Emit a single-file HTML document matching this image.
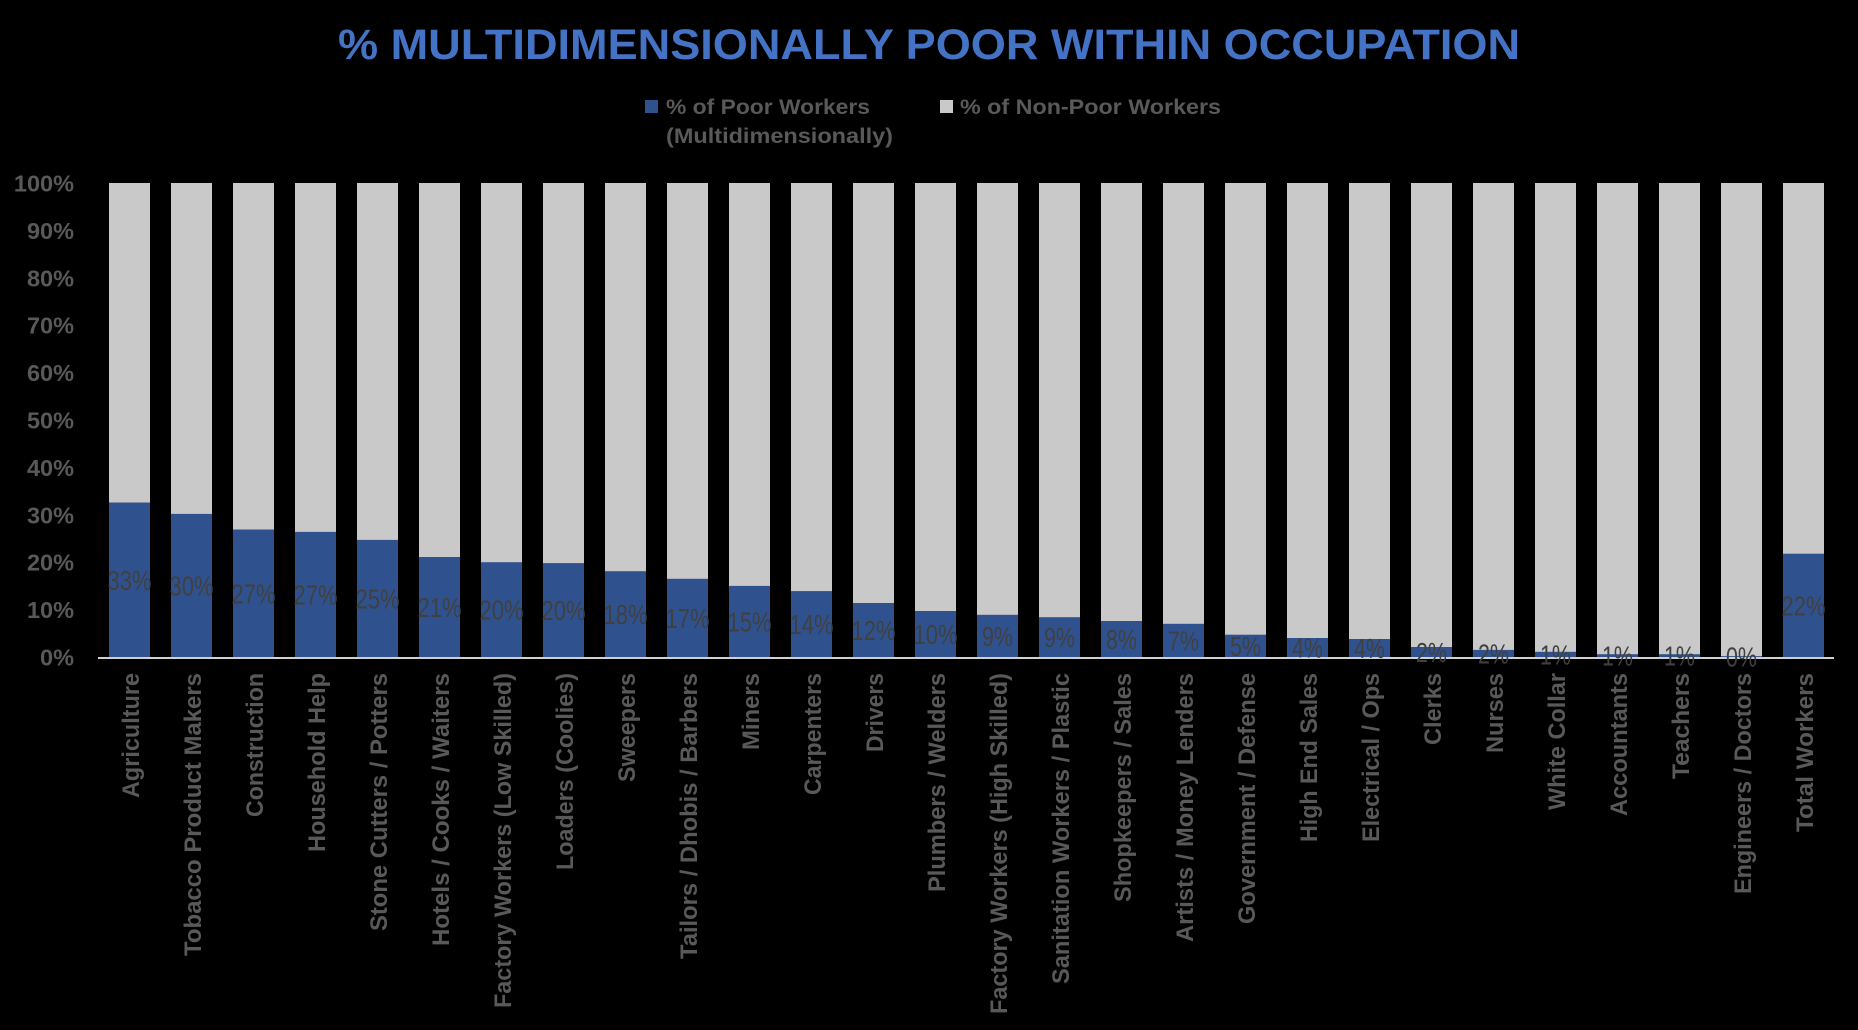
<!DOCTYPE html>
<html>
<head>
<meta charset="utf-8">
<style>
  html, body { margin: 0; padding: 0; background: #000; }
  body { width: 1858px; height: 1030px; overflow: hidden; }
  svg { display: block; }
  .t { font-family: "Liberation Sans", Arial, sans-serif; }
  .xl { font-family: "Liberation Sans", Arial, sans-serif; font-weight: bold; font-size: 24px; fill: #595959; }
  .yl { font-family: "Liberation Sans", Arial, sans-serif; font-weight: bold; font-size: 23.5px; fill: #595959; }
  .dl { font-family: "Liberation Sans", Arial, sans-serif; font-size: 28px; fill: #404040; }
</style>
</head>
<body>
<svg width="1858" height="1030" viewBox="0 0 1858 1030" xmlns="http://www.w3.org/2000/svg">
  <rect x="0" y="0" width="1858" height="1030" fill="#000"/>

  <!-- Title -->
  <text class="t" x="338" y="59" font-size="43" font-weight="bold" fill="#4472C4" textLength="1182" lengthAdjust="spacingAndGlyphs">% MULTIDIMENSIONALLY POOR WITHIN OCCUPATION</text>

  <!-- Legend -->
  <rect x="645" y="100" width="13" height="13" fill="#2F528F"/>
  <text class="t" x="666" y="114" font-size="21.5" font-weight="bold" fill="#595959" textLength="204" lengthAdjust="spacingAndGlyphs">% of Poor Workers</text>
  <text class="t" x="666" y="143" font-size="21.5" font-weight="bold" fill="#595959" textLength="227" lengthAdjust="spacingAndGlyphs">(Multidimensionally)</text>
  <rect x="940" y="100" width="13" height="13" fill="#C9C9C9"/>
  <text class="t" x="960" y="114" font-size="21.5" font-weight="bold" fill="#595959" textLength="261" lengthAdjust="spacingAndGlyphs">% of Non-Poor Workers</text>

  <!-- Y axis labels -->
  <g class="yl" text-anchor="end">
    <text x="74" y="665.5">0%</text>
    <text x="74" y="618.1">10%</text>
    <text x="74" y="570.7">20%</text>
    <text x="74" y="523.3">30%</text>
    <text x="74" y="475.9">40%</text>
    <text x="74" y="428.5">50%</text>
    <text x="74" y="381.1">60%</text>
    <text x="74" y="333.7">70%</text>
    <text x="74" y="286.3">80%</text>
    <text x="74" y="238.9">90%</text>
    <text x="74" y="191.5">100%</text>
  </g>

  <!-- Grey (non-poor) full bars -->
  <g fill="#C9C9C9">
    <rect x="109" y="183" width="41" height="474"/>
    <rect x="171" y="183" width="41" height="474"/>
    <rect x="233" y="183" width="41" height="474"/>
    <rect x="295" y="183" width="41" height="474"/>
    <rect x="357" y="183" width="41" height="474"/>
    <rect x="419" y="183" width="41" height="474"/>
    <rect x="481" y="183" width="41" height="474"/>
    <rect x="543" y="183" width="41" height="474"/>
    <rect x="605" y="183" width="41" height="474"/>
    <rect x="667" y="183" width="41" height="474"/>
    <rect x="729" y="183" width="41" height="474"/>
    <rect x="791" y="183" width="41" height="474"/>
    <rect x="853" y="183" width="41" height="474"/>
    <rect x="915" y="183" width="41" height="474"/>
    <rect x="977" y="183" width="41" height="474"/>
    <rect x="1039" y="183" width="41" height="474"/>
    <rect x="1101" y="183" width="41" height="474"/>
    <rect x="1163" y="183" width="41" height="474"/>
    <rect x="1225" y="183" width="41" height="474"/>
    <rect x="1287" y="183" width="41" height="474"/>
    <rect x="1349" y="183" width="41" height="474"/>
    <rect x="1411" y="183" width="41" height="474"/>
    <rect x="1473" y="183" width="41" height="474"/>
    <rect x="1535" y="183" width="41" height="474"/>
    <rect x="1597" y="183" width="41" height="474"/>
    <rect x="1659" y="183" width="41" height="474"/>
    <rect x="1721" y="183" width="41" height="474"/>
    <rect x="1783" y="183" width="41" height="474"/>
  </g>

  <!-- Blue (poor) segments -->
  <g fill="#2F528F">
    <rect x="109" y="502.5" width="41" height="154.5"/>
    <rect x="171" y="513.9" width="41" height="143.1"/>
    <rect x="233" y="529.5" width="41" height="127.5"/>
    <rect x="295" y="531.9" width="41" height="125.1"/>
    <rect x="357" y="539.9" width="41" height="117.1"/>
    <rect x="419" y="557" width="41" height="100"/>
    <rect x="481" y="562.2" width="41" height="94.8"/>
    <rect x="543" y="563.1" width="41" height="93.9"/>
    <rect x="605" y="571.2" width="41" height="85.8"/>
    <rect x="667" y="578.8" width="41" height="78.2"/>
    <rect x="729" y="585.9" width="41" height="71.1"/>
    <rect x="791" y="591.1" width="41" height="65.9"/>
    <rect x="853" y="603" width="41" height="54"/>
    <rect x="915" y="611" width="41" height="46"/>
    <rect x="977" y="614.8" width="41" height="42.2"/>
    <rect x="1039" y="617.2" width="41" height="39.8"/>
    <rect x="1101" y="621" width="41" height="36"/>
    <rect x="1163" y="623.8" width="41" height="33.2"/>
    <rect x="1225" y="634.7" width="41" height="22.3"/>
    <rect x="1287" y="638" width="41" height="19"/>
    <rect x="1349" y="639" width="41" height="18"/>
    <rect x="1411" y="647" width="41" height="10"/>
    <rect x="1473" y="649.9" width="41" height="7.1"/>
    <rect x="1535" y="651.8" width="41" height="5.2"/>
    <rect x="1597" y="654.2" width="41" height="2.8"/>
    <rect x="1659" y="654.2" width="41" height="2.8"/>
    <rect x="1721" y="656.1" width="41" height="0.9"/>
    <rect x="1783" y="553.7" width="41" height="103.3"/>
  </g>

  <!-- Axis line -->
  <rect x="98" y="657" width="1736" height="2" fill="#D0D0D0"/>

  <!-- Data labels -->
  <g class="dl" text-anchor="middle">
    <text x="129.5" y="590" textLength="44" lengthAdjust="spacingAndGlyphs">33%</text>
    <text x="191.5" y="595.5" textLength="44" lengthAdjust="spacingAndGlyphs">30%</text>
    <text x="253.5" y="603.5" textLength="44" lengthAdjust="spacingAndGlyphs">27%</text>
    <text x="315.5" y="604.5" textLength="44" lengthAdjust="spacingAndGlyphs">27%</text>
    <text x="377.5" y="608.5" textLength="44" lengthAdjust="spacingAndGlyphs">25%</text>
    <text x="439.5" y="617" textLength="44" lengthAdjust="spacingAndGlyphs">21%</text>
    <text x="501.5" y="619.5" textLength="44" lengthAdjust="spacingAndGlyphs">20%</text>
    <text x="563.5" y="620" textLength="44" lengthAdjust="spacingAndGlyphs">20%</text>
    <text x="625.5" y="624" textLength="44" lengthAdjust="spacingAndGlyphs">18%</text>
    <text x="687.5" y="628" textLength="44" lengthAdjust="spacingAndGlyphs">17%</text>
    <text x="749.5" y="631.5" textLength="44" lengthAdjust="spacingAndGlyphs">15%</text>
    <text x="811.5" y="634" textLength="44" lengthAdjust="spacingAndGlyphs">14%</text>
    <text x="873.5" y="640" textLength="44" lengthAdjust="spacingAndGlyphs">12%</text>
    <text x="935.5" y="644" textLength="44" lengthAdjust="spacingAndGlyphs">10%</text>
    <text x="997.5" y="646" textLength="31" lengthAdjust="spacingAndGlyphs">9%</text>
    <text x="1059.5" y="647" textLength="31" lengthAdjust="spacingAndGlyphs">9%</text>
    <text x="1121.5" y="649" textLength="31" lengthAdjust="spacingAndGlyphs">8%</text>
    <text x="1183.5" y="650.5" textLength="31" lengthAdjust="spacingAndGlyphs">7%</text>
    <text x="1245.5" y="656" textLength="31" lengthAdjust="spacingAndGlyphs">5%</text>
    <text x="1307.5" y="657.5" textLength="31" lengthAdjust="spacingAndGlyphs">4%</text>
    <text x="1369.5" y="658" textLength="31" lengthAdjust="spacingAndGlyphs">4%</text>
    <text x="1431.5" y="662" textLength="31" lengthAdjust="spacingAndGlyphs">2%</text>
    <text x="1493.5" y="663.5" textLength="31" lengthAdjust="spacingAndGlyphs">2%</text>
    <text x="1555.5" y="664.5" textLength="31" lengthAdjust="spacingAndGlyphs">1%</text>
    <text x="1617.5" y="665.5" textLength="31" lengthAdjust="spacingAndGlyphs">1%</text>
    <text x="1679.5" y="665.5" textLength="31" lengthAdjust="spacingAndGlyphs">1%</text>
    <text x="1741.5" y="666.5" textLength="31" lengthAdjust="spacingAndGlyphs">0%</text>
    <text x="1803.5" y="615.5" textLength="44" lengthAdjust="spacingAndGlyphs">22%</text>
  </g>

  <!-- X axis category labels (rotated) -->
  <g class="xl" text-anchor="end">
    <text transform="translate(139,673) rotate(-90)" textLength="125" lengthAdjust="spacingAndGlyphs">Agriculture</text>
    <text transform="translate(201,673) rotate(-90)" textLength="283" lengthAdjust="spacingAndGlyphs">Tobacco Product Makers</text>
    <text transform="translate(263,673) rotate(-90)" textLength="144" lengthAdjust="spacingAndGlyphs">Construction</text>
    <text transform="translate(325,673) rotate(-90)" textLength="179" lengthAdjust="spacingAndGlyphs">Household Help</text>
    <text transform="translate(387,673) rotate(-90)" textLength="258" lengthAdjust="spacingAndGlyphs">Stone Cutters / Potters</text>
    <text transform="translate(449,673) rotate(-90)" textLength="273" lengthAdjust="spacingAndGlyphs">Hotels / Cooks / Waiters</text>
    <text transform="translate(511,673) rotate(-90)" textLength="335" lengthAdjust="spacingAndGlyphs">Factory Workers (Low Skilled)</text>
    <text transform="translate(573,673) rotate(-90)" textLength="197" lengthAdjust="spacingAndGlyphs">Loaders (Coolies)</text>
    <text transform="translate(635,673) rotate(-90)" textLength="109" lengthAdjust="spacingAndGlyphs">Sweepers</text>
    <text transform="translate(697,673) rotate(-90)" textLength="286" lengthAdjust="spacingAndGlyphs">Tailors / Dhobis / Barbers</text>
    <text transform="translate(759,673) rotate(-90)" textLength="77" lengthAdjust="spacingAndGlyphs">Miners</text>
    <text transform="translate(821,673) rotate(-90)" textLength="122" lengthAdjust="spacingAndGlyphs">Carpenters</text>
    <text transform="translate(883,673) rotate(-90)" textLength="79" lengthAdjust="spacingAndGlyphs">Drivers</text>
    <text transform="translate(945,673) rotate(-90)" textLength="219" lengthAdjust="spacingAndGlyphs">Plumbers / Welders</text>
    <text transform="translate(1007,673) rotate(-90)" textLength="341" lengthAdjust="spacingAndGlyphs">Factory Workers (High Skilled)</text>
    <text transform="translate(1069,673) rotate(-90)" textLength="311" lengthAdjust="spacingAndGlyphs">Sanitation Workers / Plastic</text>
    <text transform="translate(1131,673) rotate(-90)" textLength="229" lengthAdjust="spacingAndGlyphs">Shopkeepers / Sales</text>
    <text transform="translate(1193,673) rotate(-90)" textLength="269" lengthAdjust="spacingAndGlyphs">Artists / Money Lenders</text>
    <text transform="translate(1255,673) rotate(-90)" textLength="251" lengthAdjust="spacingAndGlyphs">Government / Defense</text>
    <text transform="translate(1317,673) rotate(-90)" textLength="169" lengthAdjust="spacingAndGlyphs">High End Sales</text>
    <text transform="translate(1379,673) rotate(-90)" textLength="169" lengthAdjust="spacingAndGlyphs">Electrical / Ops</text>
    <text transform="translate(1441,673) rotate(-90)" textLength="72" lengthAdjust="spacingAndGlyphs">Clerks</text>
    <text transform="translate(1503,673) rotate(-90)" textLength="80" lengthAdjust="spacingAndGlyphs">Nurses</text>
    <text transform="translate(1565,673) rotate(-90)" textLength="137" lengthAdjust="spacingAndGlyphs">White Collar</text>
    <text transform="translate(1627,673) rotate(-90)" textLength="143" lengthAdjust="spacingAndGlyphs">Accountants</text>
    <text transform="translate(1689,673) rotate(-90)" textLength="106" lengthAdjust="spacingAndGlyphs">Teachers</text>
    <text transform="translate(1751,673) rotate(-90)" textLength="221" lengthAdjust="spacingAndGlyphs">Engineers / Doctors</text>
    <text transform="translate(1813,673) rotate(-90)" textLength="159" lengthAdjust="spacingAndGlyphs">Total Workers</text>
  </g>
</svg>
</body>
</html>
